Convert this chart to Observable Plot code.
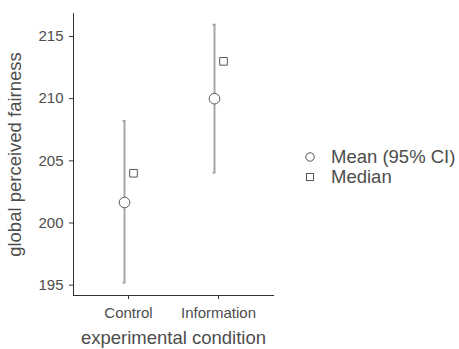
<!DOCTYPE html>
<html><head><meta charset="utf-8">
<script src="https://cdn.jsdelivr.net/npm/d3@7"></script>
<script src="https://cdn.jsdelivr.net/npm/@observablehq/plot@0.6"></script>
<style>
body{margin:0;background:#fff;font-family:"Liberation Sans",Arial,sans-serif;}
#wrap{position:relative;width:459px;height:349px;}
#legend{position:absolute;left:304px;top:147px;font-size:18.5px;color:#4d4d4d;line-height:20px;}
#legend div{display:flex;align-items:center;height:20px;}
#legend svg{margin-right:15px;}
</style></head><body>
<div id="wrap"><div id="chart"></div>
<div id="legend">
<div><svg width="12" height="12"><circle cx="6" cy="6" r="4.2" fill="#fff" stroke="#555" stroke-width="1"/></svg>Mean (95% CI)</div>
<div><svg width="12" height="12"><rect x="2.5" y="2.5" width="7" height="7" fill="#fff" stroke="#555" stroke-width="1"/></svg>Median</div>
</div></div>
<script>
const conditions = ["Control", "Information"];
const means = [201.65, 210.0];
const ciLow = [195.2, 204.05];
const ciHigh = [208.2, 215.95];
const medians = [204.0, 213.0];
const yTicks = [195, 200, 205, 210, 215];
const xTitle = "experimental condition";
const yTitle = "global perceived fairness";

const data = conditions.map((c, i) => ({c, mean: means[i], lo: ciLow[i], hi: ciHigh[i], med: medians[i]}));

const chart = Plot.plot({
  width: 459, height: 349,
  marginLeft: 73, marginRight: 186, marginTop: 13, marginBottom: 54,
  style: {fontFamily: "Liberation Sans, Arial, sans-serif", background: "#fff"},
  x: {type: "point", domain: conditions, padding: 0.611},
  y: {domain: [194.17, 216.85]},
  marks: [
    Plot.frame({anchor: "left", stroke: "#333", strokeWidth: 1}),
    Plot.frame({anchor: "bottom", stroke: "#333", strokeWidth: 1}),
    Plot.axisY({ticks: yTicks, tickSize: 4, tickPadding: 6, fontSize: 15, color: "#4d4d4d", stroke: "#333", label: null}),
    Plot.axisX({tickSize: 4, tickPadding: 8, fontSize: 15, color: "#4d4d4d", stroke: "#333", label: null}),
    Plot.text([yTitle], {frameAnchor: "left", dx: -58, rotate: -90, textAnchor: "middle", lineAnchor: "middle", fontSize: 18.5, fill: "#4d4d4d"}),
    Plot.text([xTitle], {frameAnchor: "bottom", dy: 43, textAnchor: "middle", lineAnchor: "middle", fontSize: 18.5, fill: "#4d4d4d"}),
    Plot.ruleX(data, {x: "c", y1: "lo", y2: "hi", dx: -4, stroke: "#a6a6a6", strokeWidth: 2}),
    Plot.ruleY(data, {x1: "c", x2: "c", y: "lo", dx: -4, insetLeft: -1.5, insetRight: -1.5, stroke: "#a6a6a6", strokeWidth: 2}),
    Plot.ruleY(data, {x1: "c", x2: "c", y: "hi", dx: -4, insetLeft: -1.5, insetRight: -1.5, stroke: "#a6a6a6", strokeWidth: 2}),
    Plot.dot(data, {x: "c", y: "mean", dx: -4, r: 5.3, fill: "#fff", stroke: "#555", strokeWidth: 1}),
    Plot.dot(data, {x: "c", y: "med", dx: 5, symbol: "square", r: 4.3, fill: "#fff", stroke: "#555", strokeWidth: 1})
  ]
});
document.getElementById("chart").appendChild(chart);
</script></body></html>
